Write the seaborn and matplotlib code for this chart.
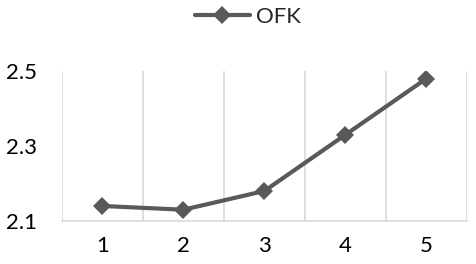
import matplotlib
matplotlib.use("Agg")
import matplotlib.pyplot as plt
import seaborn as sns
import pandas as pd
import numpy as np

categories = ["1", "2", "3", "4", "5"]
values = [2.14, 2.13, 2.18, 2.33, 2.48]
series_name = "OFK"
y_ticks = [2.1, 2.3, 2.5]

sns.set_style("white")
plt.rcParams["font.family"] = ["Lato", "DejaVu Sans"]

df = pd.DataFrame({"pos": np.arange(len(categories)), "val": values, "series": series_name})

fig = plt.figure(figsize=(4.76, 2.64), dpi=100)
ax = fig.add_axes([0.130, 0.163, 0.851, 0.568])

sns.lineplot(data=df, x="pos", y="val", hue="series", palette=["#595959"],
             marker="D", markersize=9, linewidth=3, markeredgewidth=0, ax=ax, legend=True)

ax.set_xlim(-0.5, len(categories) - 0.5)
ax.set_ylim(2.1, 2.5)
ax.set_yticks(y_ticks)
ax.set_yticklabels([f"{t:.1f}" for t in y_ticks])
ax.set_xticks(range(len(categories)))
ax.set_xticklabels(categories)
ax.set_xticks(np.arange(-0.5, len(categories), 1.0), minor=True)
ax.grid(False)
ax.grid(True, which="minor", axis="x", color="#d9d9d9", linewidth=1.2)
ax.tick_params(axis="both", which="both", length=0, labelsize=16, colors="#000000")
ax.tick_params(axis="x", pad=11)
ax.tick_params(axis="y", pad=18)
for s in ["top", "right", "left"]:
    ax.spines[s].set_visible(False)
ax.spines["bottom"].set_color("#d9d9d9")
ax.spines["bottom"].set_linewidth(1.2)
ax.set_xlabel("")
ax.set_ylabel("")

handles, labels = ax.get_legend_handles_labels()
ax.get_legend().remove()
fig.legend(handles, labels, loc="center", bbox_to_anchor=(0.52, 0.935), frameon=False,
           fontsize=16, handlelength=2.5, handletextpad=0.25)

fig.savefig("out.png", dpi=100)
